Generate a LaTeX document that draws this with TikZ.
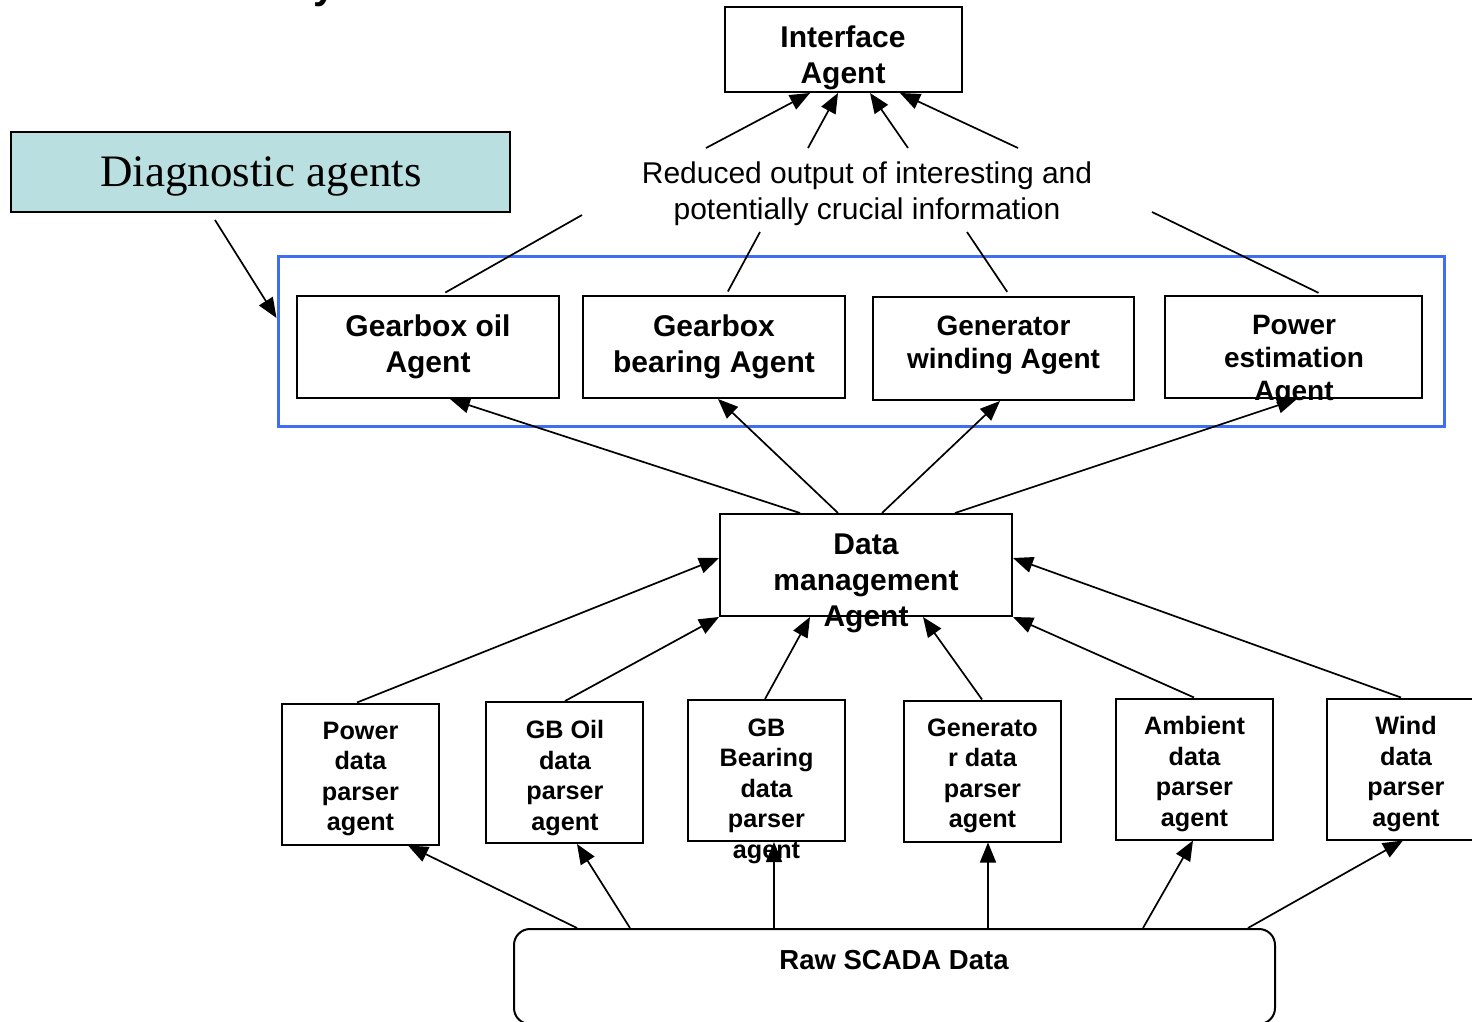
\documentclass[tikz,border=0pt]{standalone}
\usepackage{fontspec}
\setmainfont{Liberation Sans}
\newfontfamily\timesf{Liberation Serif}
\usetikzlibrary{arrows.meta,calc}
\definecolor{teal1}{HTML}{B9DFE0}
\definecolor{grpblue}{HTML}{3F6EF2}
\begin{document}
\begin{tikzpicture}[x=1pt,y=-1pt,
  box/.style={draw=black, line width=2pt, inner sep=0pt, fill=white},
  pbox/.style={box, minimum width=157, minimum height=141},
  abox/.style={box, minimum width=262, minimum height=102},
  tb/.style={font=\bfseries\fontsize{30}{36}\selectfont, align=center, inner sep=0pt},
  tm/.style={font=\bfseries\fontsize{28}{33}\selectfont, align=center, inner sep=0pt},
  tp/.style={font=\bfseries\fontsize{25.2}{30.5}\selectfont, align=center, inner sep=0pt},
  tr/.style={font=\fontsize{30}{36}\selectfont, align=center, inner sep=0pt},
  arr/.style={line width=1.7pt, -{Triangle[length=20pt,width=16pt]}},
  ln/.style={line width=1.7pt},
]
\useasboundingbox (0,0) rectangle (1472,1022);

% cut-off glyph at top
\node[font=\bfseries\fontsize{40}{40}\selectfont, anchor=base west, inner sep=0pt] (ytop) at (313,-1) {y};

% Interface agent
\node[box, minimum width=237, minimum height=85] (iface) at (843.5,49.5) {};
\node[tb] (iface-t) at (843,58) {Interface\\Agent};

% Diagnostic agents label
\node[draw=black, line width=2pt, fill=teal1, minimum width=499, minimum height=80, inner sep=0pt] (dg) at (260.5,172) {};
\node[font=\timesf\fontsize{45}{50}\selectfont, inner sep=0pt] (dg-t) at (261,176) {Diagnostic agents};

% Reduced output text
\node[tr] (red) at (867,194) {Reduced output of interesting and\\potentially crucial information};

% blue group frame
\node[draw=grpblue, line width=3pt, minimum width=1166, minimum height=170, inner sep=0pt] (grp) at (861,341) {};

% Diagnostic agent boxes
\node[abox] (gbo) at (428,347) {};
\node[tb] (gbo-t) at (428,347) {Gearbox oil\\Agent};
\node[abox] (gbb) at (714,347) {};
\node[tb] (gbb-t) at (714,347) {Gearbox\\bearing Agent};
\node[abox, minimum width=261, minimum height=103] (gen) at (1003.5,348.5) {};
\node[tm] (gen-t) at (1003.5,345.5) {Generator\\winding Agent};
\node[abox, minimum width=257] (pow) at (1293.5,347) {};
\node[tm] (pow-t) at (1294,360.5) {Power\\estimation\\Agent};

% Data management agent
\node[box, minimum width=292, minimum height=102] (dm) at (866,565) {};
\node[tb] (dm-t) at (866,583) {Data\\management\\Agent};

% Parser agents
\node[pbox] (pp) at (360.5,774) {};
\node[tp] (pp-t) at (360.5,779) {Power\\data\\parser\\agent};
\node[pbox] (go2) at (564.5,772.5) {};
\node[tp] (go2-t) at (565,778) {GB Oil\\data\\parser\\agent};
\node[pbox] (gbp) at (766.5,770.5) {};
\node[tp] (gbp-t) at (766.5,791) {GB\\Bearing\\data\\parser\\agent};
\node[pbox] (gnp) at (982.5,771) {};
\node[tp] (gnp-t) at (982.5,776) {Generato\\r data\\parser\\agent};
\node[pbox] (amp) at (1194.5,769) {};
\node[tp] (amp-t) at (1194.5,774) {Ambient\\data\\parser\\agent};
\node[pbox] (wdp) at (1405.5,769) {};
\node[tp] (wdp-t) at (1406,774) {Wind\\data\\parser\\agent};

% Raw SCADA data
\node[draw=black, line width=2pt, rounded corners=16pt, minimum width=761, minimum height=95, inner sep=0pt] (raw) at (894.5,976.5) {};
\node[font=\bfseries\fontsize{27.5}{33}\selectfont, inner sep=0pt] (raw-t) at (894,960) {Raw SCADA Data};

% free ends
\coordinate (r1) at (706,148);
\coordinate (r2) at (808,148);
\coordinate (r3) at (908,148);
\coordinate (r4) at (1018,148);
\coordinate (d0) at (215,220);
\coordinate (s1) at (582,215);
\coordinate (s2) at (760,232);
\coordinate (s3) at (967,232);
\coordinate (s4) at (1152,212);

% arrows to interface agent
\draw[arr] (r1) -- ([xshift=-33.5pt]iface.south);
\draw[arr] (r2) -- ([xshift=-5.5pt]iface.south);
\draw[arr] (r3) -- ([xshift=26.5pt]iface.south);
\draw[arr] (r4) -- ([xshift=56.5pt]iface.south);

% diagnostic label arrow
\draw[arr] (d0) -- ([yshift=23pt]grp.west);

% lines from agents to reduced text
\draw[ln, shorten >=5pt] (s1) -- ([xshift=13pt]gbo.north);
\draw[ln, shorten >=4pt] (s2) -- ([xshift=12pt]gbb.north);
\draw[ln, shorten >=5pt] (s3) -- ([xshift=6.5pt]gen.north);
\draw[ln, shorten >=5pt] (s4) -- ([xshift=29.5pt]pow.north);

% data management to agents
\draw[arr] ([xshift=-66pt]dm.north) -- ([xshift=22pt]gbo.south);
\draw[arr] ([xshift=-28pt]dm.north) -- ([xshift=4pt]gbb.south);
\draw[arr] ([xshift=16pt]dm.north) -- ([xshift=-3.5pt]gen.south);
\draw[arr] ([xshift=89pt]dm.north) -- ([xshift=3.5pt]pow.south);

% parsers to data management
\draw[arr] ([xshift=-3.5pt]pp.north) -- ([yshift=7pt]dm.west);
\draw[arr] ([xshift=0.5pt]go2.north) -- (dm.south west);
\draw[arr] ([xshift=-1.5pt]gbp.north) -- ([xshift=-56pt]dm.south);
\draw[arr] ([xshift=-0.5pt]gnp.north) -- ([xshift=57pt]dm.south);
\draw[arr] ([xshift=-0.5pt]amp.north) -- (dm.south east);
\draw[arr] ([xshift=-4.5pt]wdp.north) -- ([yshift=7pt]dm.east);

% raw data to parsers
\draw[arr] ([xshift=-317.5pt]raw.north) -- ([xshift=47.5pt]pp.south);
\draw[arr] ([xshift=-264.5pt]raw.north) -- ([xshift=12.5pt]go2.south);
\draw[arr] ([xshift=-120.5pt]raw.north) -- ([xshift=7.5pt]gbp.south);
\draw[arr] ([xshift=93.5pt]raw.north) -- ([xshift=5.5pt]gnp.south);
\draw[arr] ([xshift=248.5pt]raw.north) -- ([xshift=-1.5pt]amp.south);
\draw[arr] ([xshift=353.5pt]raw.north) -- ([xshift=-2.5pt]wdp.south);
\end{tikzpicture}
\end{document}
